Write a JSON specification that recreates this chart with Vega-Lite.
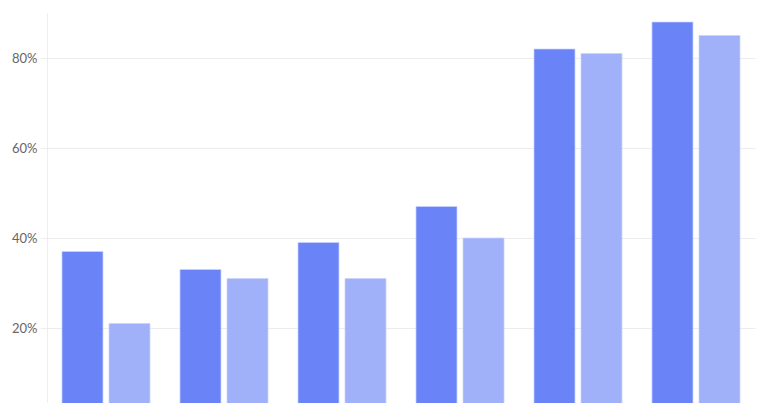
{
  "$schema": "https://vega.github.io/schema/vega-lite/v6.json",
  "width": 708, "height": 405,
  "autosize": {"type": "none"},
  "padding": {"left": 47, "top": 13, "right": 13, "bottom": 0},
  "background": "white",
  "data": {
    "values": [
      {"group": "G1", "series": "A", "value": 0.37},
      {"group": "G1", "series": "B", "value": 0.21},
      {"group": "G2", "series": "A", "value": 0.33},
      {"group": "G2", "series": "B", "value": 0.31},
      {"group": "G3", "series": "A", "value": 0.39},
      {"group": "G3", "series": "B", "value": 0.31},
      {"group": "G4", "series": "A", "value": 0.47},
      {"group": "G4", "series": "B", "value": 0.40},
      {"group": "G5", "series": "A", "value": 0.82},
      {"group": "G5", "series": "B", "value": 0.81},
      {"group": "G6", "series": "A", "value": 0.88},
      {"group": "G6", "series": "B", "value": 0.85}
    ]
  },
  "config": {
    "view": {"stroke": null},
    "axis": {
      "labelFont": "Lato", "labelFontSize": 13, "labelColor": "#666",
      "gridColor": "#ececec", "domainColor": "#eeeeee", "tickColor": "#eeeeee"
    }
  },
  "mark": {"type": "bar", "fillOpacity": 0.92, "stroke": "#c9d3fd", "strokeWidth": 1, "strokeOpacity": 0.7},
  "encoding": {
    "x": {
      "field": "group", "type": "nominal", "title": null,
      "scale": {"paddingInner": 0.254, "paddingOuter": 0.127},
      "axis": null
    },
    "xOffset": {
      "field": "series", "type": "nominal",
      "scale": {"paddingInner": 0.128}
    },
    "y": {
      "field": "value", "type": "quantitative", "title": null,
      "scale": {"domain": [0, 0.9], "nice": false},
      "axis": {"values": [0.2, 0.4, 0.6, 0.8], "format": ".0%", "tickSize": 7, "labelPadding": 3, "grid": true}
    },
    "color": {
      "field": "series", "type": "nominal", "legend": null,
      "scale": {"domain": ["A", "B"], "range": ["#5d79f7", "#98aafa"]}
    }
  }
}
